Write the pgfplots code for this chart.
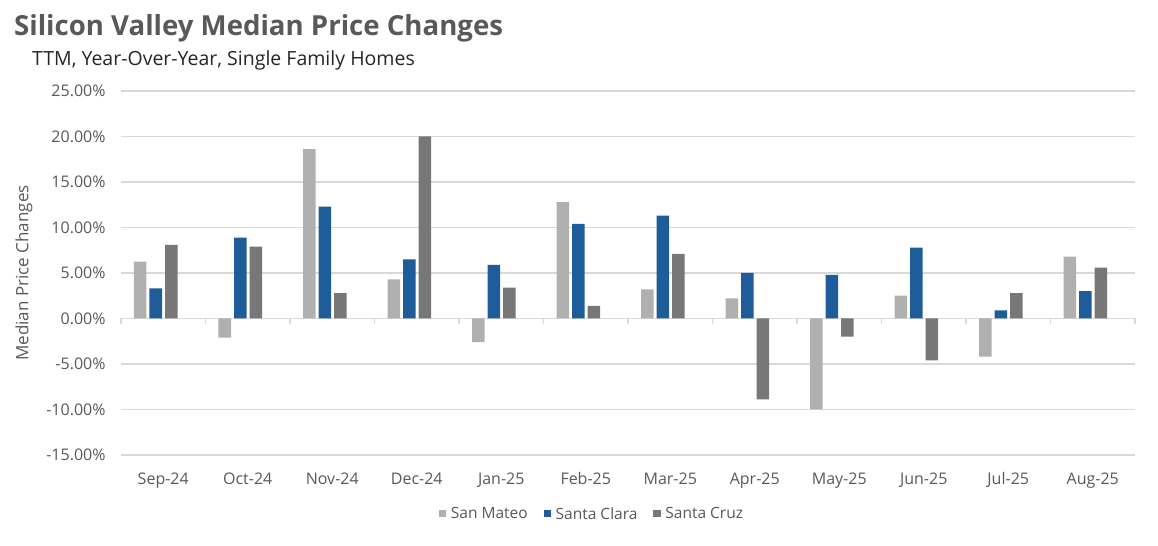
\documentclass[border=0pt]{standalone}
\usepackage{fontspec}
\setmainfont{Open Sans}
\usepackage{pgfplots}
\pgfplotsset{compat=1.18}
\definecolor{smgray}{HTML}{B0B0B0}
\definecolor{scblue}{HTML}{1F5D9A}
\definecolor{czgray}{HTML}{777777}
\definecolor{txtgray}{HTML}{595959}
\definecolor{gridc}{HTML}{D9D9D9}

\begin{document}
\begin{tikzpicture}
\path[use as bounding box] (0,0) rectangle (1158bp,546bp);
\node[anchor=base west, font=\bfseries\fontsize{27.6bp}{32bp}\selectfont, text=txtgray, inner sep=0pt] at (14bp,510bp) {Silicon Valley Median Price Changes};
\node[anchor=base west, font=\fontsize{19.5bp}{23bp}\selectfont, text=black!85, inner sep=0pt] at (32bp,480bp) {TTM, Year-Over-Year, Single Family Homes};
\begin{axis}[
    at={(121bp,91bp)}, anchor=south west,
    scale only axis,
    width=1014bp, height=364bp,
    ybar=0pt,
    bar width=12.5bp,
    xmin=-0.5, xmax=11.5,
    ymin=-15, ymax=25,
    ytick={-15,-10,...,25},
    xtick={0,...,11},
    xticklabels={Sep-24,Oct-24,Nov-24,Dec-24,Jan-25,Feb-25,Mar-25,Apr-25,May-25,Jun-25,Jul-25,Aug-25},
    yticklabel={\pgfmathprintnumber[fixed,fixed zerofill,precision=2]{\tick}\%},
    /pgf/number format/assume math mode=true,
    axis line style={draw=none},
    major tick length=0pt,
    ymajorgrids,
    grid style={gridc, line width=1.1bp},
    tick label style={font=\fontsize{16bp}{19bp}\selectfont, text=txtgray},
    xticklabel style={anchor=base, yshift=-30bp},
    yticklabel style={anchor=east, xshift=-12bp},
    ylabel={Median Price Changes},
    ylabel style={font=\fontsize{17bp}{20bp}\selectfont, text=txtgray, at={(axis description cs:-0.0957,0.5)}, anchor=center},
    legend style={at={(0.4645,-0.162)}, anchor=center, draw=none, legend columns=3,
        font=\fontsize{15.5bp}{18bp}\selectfont, text=txtgray,
        /tikz/every even column/.append style={column sep=14bp}},
    legend image code/.code={\fill[#1] (0bp,-3.5bp) rectangle (7.5bp,4bp); \path (0bp,0bp) -- (10bp,0bp);},
    clip=false,
]
\addplot[fill=smgray, draw=none, bar shift=-23bp] coordinates {(0,6.25) (1,-2.1) (2,18.6) (3,4.3) (4,-2.6) (5,12.8) (6,3.2) (7,2.2) (8,-10.0) (9,2.5) (10,-4.2) (11,6.8)};
\addplot[fill=scblue, draw=none, bar shift=-7.5bp] coordinates {(0,3.3) (1,8.9) (2,12.3) (3,6.5) (4,5.9) (5,10.4) (6,11.3) (7,5.0) (8,4.8) (9,7.8) (10,0.9) (11,3.0)};
\addplot[fill=czgray, draw=none, bar shift=8bp] coordinates {(0,8.1) (1,7.9) (2,2.8) (3,20.0) (4,3.4) (5,1.4) (6,7.1) (7,-8.9) (8,-2.0) (9,-4.6) (10,2.8) (11,5.6)};
\pgfplotsinvokeforeach{0,...,12}{
  \draw[gridc, line width=1.1bp] (axis cs:#1-0.5,0) -- ++(0pt,-6bp);
}
\legend{San Mateo, Santa Clara, Santa Cruz}
\end{axis}
\end{tikzpicture}
\end{document}
